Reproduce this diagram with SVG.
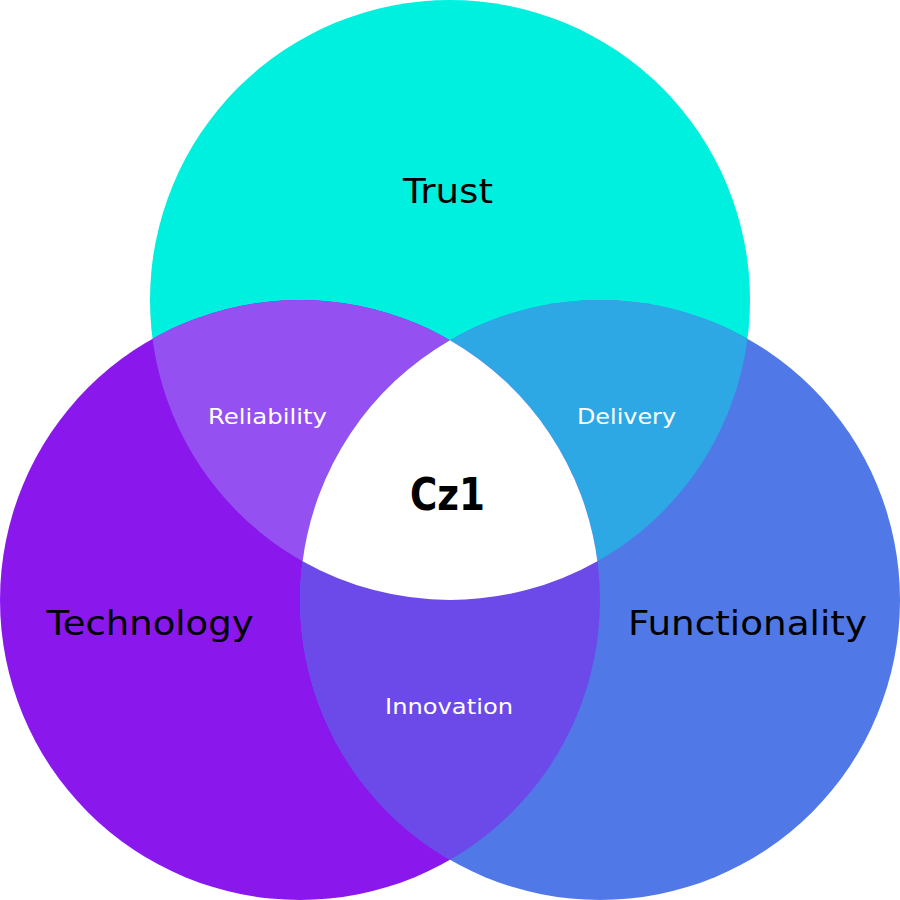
<svg xmlns="http://www.w3.org/2000/svg" width="900" height="900" viewBox="0 0 900 900">
<style>
.big{font-family:"DejaVu Sans","Liberation Sans",sans-serif;font-size:34px;fill:#000;text-anchor:middle}
.small{font-family:"DejaVu Sans","Liberation Sans",sans-serif;font-size:22px;fill:#fff;text-anchor:middle}
.core{font-family:"DejaVu Sans","Liberation Sans",sans-serif;font-size:45px;font-weight:bold;fill:#000;text-anchor:middle}
</style>
<defs>
<clipPath id="cA"><circle cx="450" cy="300" r="300"/></clipPath>
<clipPath id="cB"><circle cx="300" cy="600" r="300"/></clipPath>
</defs>
<rect width="900" height="900" fill="#fff"/>
<g id="trust"><circle cx="450" cy="300" r="300" fill="#00F0DF"/></g>
<g id="technology"><circle cx="300" cy="600" r="300" fill="#8A18EC"/></g>
<g id="functionality"><circle cx="600" cy="600" r="300" fill="#5079E7"/></g>
<g id="reliability"><circle cx="300" cy="600" r="300" fill="#9450F0" clip-path="url(#cA)"/></g>
<g id="delivery"><circle cx="600" cy="600" r="300" fill="#2EA8E4" clip-path="url(#cA)"/></g>
<g id="innovation"><circle cx="600" cy="600" r="300" fill="#6C4AE9" clip-path="url(#cB)"/></g>
<g id="cz1"><path d="M450,340.2 A300,300 0 0,0 302.6,561.2 A300,300 0 0,0 597.4,561.2 A300,300 0 0,0 450,340.2 Z" fill="#fff"/></g>
<g id="labels">
<text class="big" x="448" y="203" textLength="90" lengthAdjust="spacingAndGlyphs">Trust</text>
<text class="big" x="150" y="635" textLength="207" lengthAdjust="spacingAndGlyphs">Technology</text>
<text class="big" x="747.5" y="635" textLength="239" lengthAdjust="spacingAndGlyphs">Functionality</text>
<text class="core" x="447.5" y="510" textLength="75" lengthAdjust="spacingAndGlyphs">Cz1</text>
<text class="small" x="267.5" y="424" textLength="119" lengthAdjust="spacingAndGlyphs">Reliability</text>
<text class="small" x="626.5" y="424" textLength="99" lengthAdjust="spacingAndGlyphs">Delivery</text>
<text class="small" x="449" y="714" textLength="128" lengthAdjust="spacingAndGlyphs">Innovation</text>
</g>
<g id="connectors"></g>
</svg>
